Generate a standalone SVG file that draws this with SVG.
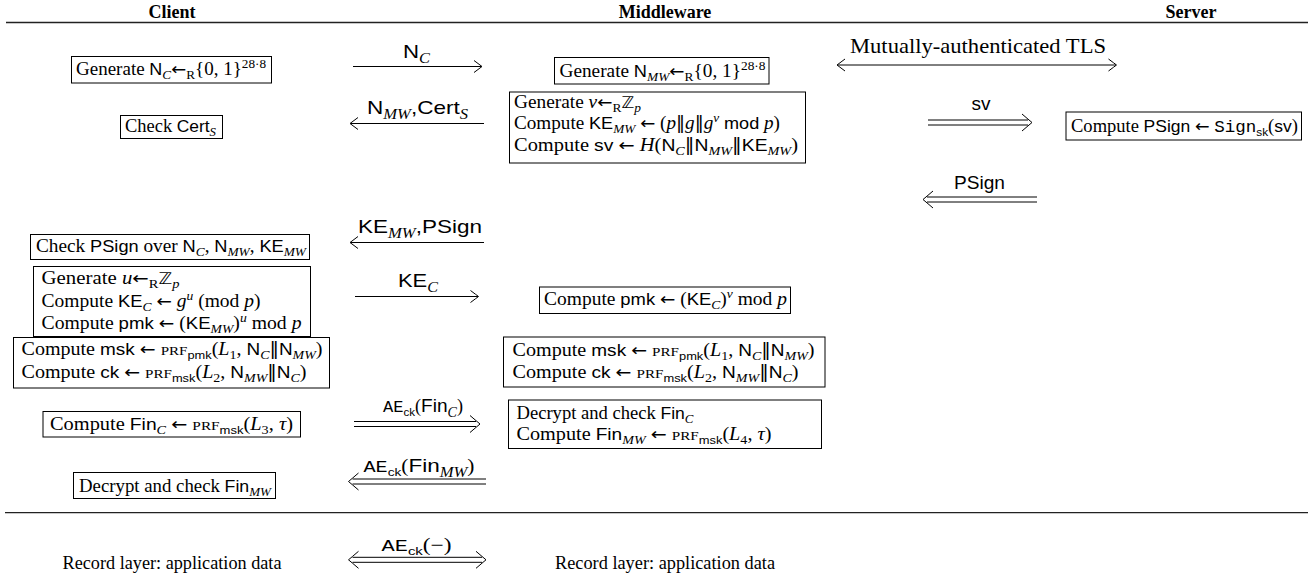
<svg xmlns="http://www.w3.org/2000/svg" xmlns:xlink="http://www.w3.org/1999/xlink" width="1313" height="588" viewBox="0 0 1313 588">
<style>
.bg{fill:#fff}
.box{fill:#fff;stroke:#000;stroke-width:1}
.rule{stroke:#222;stroke-width:1.3}
.ln{stroke:#000;stroke-width:1;fill:none}
.hd{stroke:#000;stroke-width:1;fill:none}
text{fill:#000}
.tx{font-family:"Liberation Serif",serif;font-size:18px}
.hdr{font-family:"Liberation Serif",serif;font-size:18px;font-weight:bold;text-anchor:middle}
.lb{font-family:"Liberation Serif",serif;font-size:18px;text-anchor:middle}
.tls{font-family:"Liberation Serif",serif;font-size:22px;text-anchor:middle}
.r{font-family:"Liberation Serif",serif;font-size:18px}
.s{font-family:"Liberation Sans",sans-serif;font-size:17px}
.s2{font-family:"Liberation Sans",sans-serif;font-size:19px}
.i{font-family:"Liberation Serif",serif;font-style:italic}
.m{font-family:"Liberation Mono",monospace;font-size:17px}
.sc{font-family:"Liberation Serif",serif;font-size:13.5px}
.bb{font-family:"DejaVu Sans",sans-serif;font-size:16px}
.ar{font-family:"DejaVu Sans",sans-serif;font-size:17px}
.dv{font-family:"DejaVu Sans",sans-serif;font-size:17px}
.sb{font-size:12.5px;baseline-shift:-4px}
.sb2{font-size:14px;baseline-shift:-4.5px}
.sbs{font-family:"Liberation Sans",sans-serif;font-size:11.5px;baseline-shift:-4px}
.sp{font-size:12.5px;baseline-shift:7px}
</style>
<defs>
<path id="hs" class="hd" d="M-8,-6 Q-2,-1.5 0,0 Q-2,1.5 -8,6"/>
<path id="hd2" class="hd" d="M-10,-8.5 Q-3,-2.5 0,0 Q-3,2.5 -10,8.5"/>
</defs>
<rect class="bg" x="0" y="0" width="1313" height="588"/>

<g id="headers">
<text class="hdr" x="172" y="17.5">Client</text>
<text class="hdr" x="665" y="17.5">Middleware</text>
<text class="hdr" x="1191" y="17.5">Server</text>
<line class="rule" x1="6" y1="22.5" x2="1308" y2="22.5"/>
<line class="rule" x1="5" y1="512.7" x2="1308" y2="512.7"/>
</g>

<g id="connectors">
<line class="ln" x1="353" y1="66.5" x2="481.5" y2="66.5"/>
<use xlink:href="#hs" transform="translate(482,66.5)"/>
<text class="lb" x="416.5" y="57.5" textLength="27" lengthAdjust="spacingAndGlyphs"><tspan class="s2">N</tspan><tspan class="i sb2">C</tspan></text>

<line class="ln" x1="350.5" y1="123.5" x2="484" y2="123.5"/>
<use xlink:href="#hs" transform="translate(350,123.5) scale(-1,1)"/>
<text class="lb" x="417.5" y="114" textLength="101" lengthAdjust="spacingAndGlyphs"><tspan class="s2">N</tspan><tspan class="i sb2">MW</tspan><tspan class="s2">,Cert</tspan><tspan class="i sb2">S</tspan></text>

<line class="ln" x1="837.5" y1="65" x2="1116" y2="65"/>
<use xlink:href="#hs" transform="translate(837,65) scale(-1,1)"/>
<use xlink:href="#hs" transform="translate(1116.5,65)"/>
<text class="tls" x="978" y="53" textLength="256" lengthAdjust="spacingAndGlyphs">Mutually-authenticated TLS</text>

<line class="ln" x1="928" y1="120" x2="1028" y2="120"/>
<line class="ln" x1="928" y1="125" x2="1028" y2="125"/>
<use xlink:href="#hd2" transform="translate(1032,122.5)"/>
<text class="lb" x="981" y="110"><tspan class="s2">sv</tspan></text>

<line class="ln" x1="927" y1="197" x2="1037" y2="197"/>
<line class="ln" x1="927" y1="202" x2="1037" y2="202"/>
<use xlink:href="#hd2" transform="translate(923,199.5) scale(-1,1)"/>
<text class="lb" x="979.5" y="188.5" textLength="51" lengthAdjust="spacingAndGlyphs"><tspan class="s2">PSign</tspan></text>

<line class="ln" x1="350.5" y1="242.5" x2="484" y2="242.5"/>
<use xlink:href="#hs" transform="translate(350,242.5) scale(-1,1)"/>
<text class="lb" x="420" y="233" textLength="124" lengthAdjust="spacingAndGlyphs"><tspan class="s2">KE</tspan><tspan class="i sb2">MW</tspan><tspan class="s2">,PSign</tspan></text>

<line class="ln" x1="355" y1="296.5" x2="478" y2="296.5"/>
<use xlink:href="#hs" transform="translate(478.5,296.5)"/>
<text class="lb" x="418" y="286.5" textLength="40" lengthAdjust="spacingAndGlyphs"><tspan class="s2">KE</tspan><tspan class="i sb2">C</tspan></text>

<line class="ln" x1="354" y1="421.5" x2="476" y2="421.5"/>
<line class="ln" x1="354" y1="426.5" x2="476" y2="426.5"/>
<use xlink:href="#hd2" transform="translate(480,424)"/>
<text class="lb" x="423" y="412" textLength="80" lengthAdjust="spacingAndGlyphs"><tspan class="m">AE</tspan><tspan class="sbs">ck</tspan><tspan class="r">(</tspan><tspan class="s2">Fin</tspan><tspan class="i sb2">C</tspan><tspan class="r">)</tspan></text>

<line class="ln" x1="352.5" y1="479" x2="486" y2="479"/>
<line class="ln" x1="352.5" y1="484" x2="486" y2="484"/>
<use xlink:href="#hd2" transform="translate(348.5,481.5) scale(-1,1)"/>
<text class="lb" x="419" y="471.5" textLength="111" lengthAdjust="spacingAndGlyphs"><tspan class="m">AE</tspan><tspan class="sbs">ck</tspan><tspan class="r">(</tspan><tspan class="s2">Fin</tspan><tspan class="i sb2">MW</tspan><tspan class="r">)</tspan></text>

<line class="ln" x1="352.5" y1="557.3" x2="482" y2="557.3"/>
<line class="ln" x1="352.5" y1="562.3" x2="482" y2="562.3"/>
<use xlink:href="#hd2" transform="translate(348.5,559.8) scale(-1,1)"/>
<use xlink:href="#hd2" transform="translate(486,559.8)"/>
<text class="lb" x="416.5" y="550.5" textLength="70" lengthAdjust="spacingAndGlyphs"><tspan class="m">AE</tspan><tspan class="sbs">ck</tspan><tspan class="r">(−)</tspan></text>
</g>

<g id="client-gen-nonce">
<rect class="box" x="71.5" y="56.5" width="200" height="26.5"/>
<text class="tx" x="76" y="75" textLength="190" lengthAdjust="spacingAndGlyphs"><tspan class="r">Generate </tspan><tspan class="s">N</tspan><tspan class="i sb">C</tspan><tspan class="ar">←</tspan><tspan class="r sb">R</tspan><tspan class="r">{0, 1}</tspan><tspan class="r sp">28·8</tspan></text>
</g>
<g id="client-check-cert">
<rect class="box" x="120.5" y="115.5" width="102" height="23"/>
<text class="tx" x="125" y="132" textLength="91" lengthAdjust="spacingAndGlyphs"><tspan class="r">Check </tspan><tspan class="s">Cert</tspan><tspan class="i sb">S</tspan></text>
</g>
<g id="client-check-psign">
<rect class="box" x="30.5" y="234.5" width="279" height="25"/>
<text class="tx" x="36" y="251.5" textLength="270" lengthAdjust="spacingAndGlyphs"><tspan class="r">Check </tspan><tspan class="s">PSign</tspan><tspan class="r"> over </tspan><tspan class="s">N</tspan><tspan class="i sb">C</tspan><tspan class="r">, </tspan><tspan class="s">N</tspan><tspan class="i sb">MW</tspan><tspan class="r">, </tspan><tspan class="s">KE</tspan><tspan class="i sb">MW</tspan></text>
</g>
<g id="client-keyshare">
<rect class="box" x="33.5" y="266.5" width="277" height="70"/>
<text class="tx" x="41.5" y="283.5" textLength="138" lengthAdjust="spacingAndGlyphs"><tspan class="r">Generate </tspan><tspan class="i">u</tspan><tspan class="ar">←</tspan><tspan class="r sb">R</tspan><tspan class="bb">ℤ</tspan><tspan class="i sb">p</tspan></text>
<text class="tx" x="41.5" y="306.5" textLength="219" lengthAdjust="spacingAndGlyphs"><tspan class="r">Compute </tspan><tspan class="s">KE</tspan><tspan class="i sb">C</tspan><tspan class="r"> </tspan><tspan class="ar">←</tspan><tspan class="r"> </tspan><tspan class="i">g</tspan><tspan class="i sp">u</tspan><tspan class="r"> (mod </tspan><tspan class="i">p</tspan><tspan class="r">)</tspan></text>
<text class="tx" x="41.5" y="329" textLength="260" lengthAdjust="spacingAndGlyphs"><tspan class="r">Compute </tspan><tspan class="s">pmk</tspan><tspan class="r"> </tspan><tspan class="ar">←</tspan><tspan class="r"> (</tspan><tspan class="s">KE</tspan><tspan class="i sb">MW</tspan><tspan class="r">)</tspan><tspan class="i sp">u</tspan><tspan class="r"> mod </tspan><tspan class="i">p</tspan></text>
</g>
<g id="client-keys">
<rect class="box" x="13.5" y="337.5" width="316" height="50.5"/>
<text class="tx" x="21.5" y="355" textLength="301" lengthAdjust="spacingAndGlyphs"><tspan class="r">Compute </tspan><tspan class="s">msk</tspan><tspan class="r"> </tspan><tspan class="ar">←</tspan><tspan class="r"> </tspan><tspan class="sc">PRF</tspan><tspan class="sbs">pmk</tspan><tspan class="r">(</tspan><tspan class="i">L</tspan><tspan class="r sb">1</tspan><tspan class="r">, </tspan><tspan class="s">N</tspan><tspan class="i sb">C</tspan><tspan class="dv">‖</tspan><tspan class="s">N</tspan><tspan class="i sb">MW</tspan><tspan class="r">)</tspan></text>
<text class="tx" x="21.5" y="378.3" textLength="285" lengthAdjust="spacingAndGlyphs"><tspan class="r">Compute </tspan><tspan class="s">ck</tspan><tspan class="r"> </tspan><tspan class="ar">←</tspan><tspan class="r"> </tspan><tspan class="sc">PRF</tspan><tspan class="sbs">msk</tspan><tspan class="r">(</tspan><tspan class="i">L</tspan><tspan class="r sb">2</tspan><tspan class="r">, </tspan><tspan class="s">N</tspan><tspan class="i sb">MW</tspan><tspan class="dv">‖</tspan><tspan class="s">N</tspan><tspan class="i sb">C</tspan><tspan class="r">)</tspan></text>
</g>
<g id="client-fin">
<rect class="box" x="43" y="411.5" width="257.5" height="25.5"/>
<text class="tx" x="50" y="430" textLength="243" lengthAdjust="spacingAndGlyphs"><tspan class="r">Compute </tspan><tspan class="s">Fin</tspan><tspan class="i sb">C</tspan><tspan class="r"> </tspan><tspan class="ar">←</tspan><tspan class="r"> </tspan><tspan class="sc">PRF</tspan><tspan class="sbs">msk</tspan><tspan class="r">(</tspan><tspan class="i">L</tspan><tspan class="r sb">3</tspan><tspan class="r">, </tspan><tspan class="i">τ</tspan><tspan class="r">)</tspan></text>
</g>
<g id="client-check-fin">
<rect class="box" x="73.5" y="472.5" width="202" height="26"/>
<text class="tx" x="79" y="491.5" textLength="192" lengthAdjust="spacingAndGlyphs"><tspan class="r">Decrypt and check </tspan><tspan class="s">Fin</tspan><tspan class="i sb">MW</tspan></text>
</g>
<g id="client-record">
<text class="tx" x="172" y="569" text-anchor="middle" textLength="219" lengthAdjust="spacingAndGlyphs">Record layer: application data</text>
</g>

<g id="mw-gen-nonce">
<rect class="box" x="554.5" y="57.5" width="214.5" height="26.5"/>
<text class="tx" x="559.5" y="76.5" textLength="206" lengthAdjust="spacingAndGlyphs"><tspan class="r">Generate </tspan><tspan class="s">N</tspan><tspan class="i sb">MW</tspan><tspan class="ar">←</tspan><tspan class="r sb">R</tspan><tspan class="r">{0, 1}</tspan><tspan class="r sp">28·8</tspan></text>
</g>
<g id="mw-keyshare">
<rect class="box" x="509.5" y="92" width="296" height="71"/>
<text class="tx" x="514" y="108.3" textLength="127" lengthAdjust="spacingAndGlyphs"><tspan class="r">Generate </tspan><tspan class="i">v</tspan><tspan class="ar">←</tspan><tspan class="r sb">R</tspan><tspan class="bb">ℤ</tspan><tspan class="i sb">p</tspan></text>
<text class="tx" x="514" y="129" textLength="266" lengthAdjust="spacingAndGlyphs"><tspan class="r">Compute </tspan><tspan class="s">KE</tspan><tspan class="i sb">MW</tspan><tspan class="r"> </tspan><tspan class="ar">←</tspan><tspan class="r"> (</tspan><tspan class="i">p</tspan><tspan class="dv">‖</tspan><tspan class="i">g</tspan><tspan class="dv">‖</tspan><tspan class="i">g</tspan><tspan class="i sp">v</tspan><tspan class="r"> </tspan><tspan class="s">mod</tspan><tspan class="r"> </tspan><tspan class="i">p</tspan><tspan class="r">)</tspan></text>
<text class="tx" x="514" y="150.5" textLength="284" lengthAdjust="spacingAndGlyphs"><tspan class="r">Compute </tspan><tspan class="s">sv</tspan><tspan class="r"> </tspan><tspan class="ar">←</tspan><tspan class="r"> </tspan><tspan class="i">H</tspan><tspan class="r">(</tspan><tspan class="s">N</tspan><tspan class="i sb">C</tspan><tspan class="dv">‖</tspan><tspan class="s">N</tspan><tspan class="i sb">MW</tspan><tspan class="dv">‖</tspan><tspan class="s">KE</tspan><tspan class="i sb">MW</tspan><tspan class="r">)</tspan></text>
</g>
<g id="mw-pmk">
<rect class="box" x="539.5" y="287" width="251" height="26.5"/>
<text class="tx" x="544" y="305" textLength="243" lengthAdjust="spacingAndGlyphs"><tspan class="r">Compute </tspan><tspan class="s">pmk</tspan><tspan class="r"> </tspan><tspan class="ar">←</tspan><tspan class="r"> (</tspan><tspan class="s">KE</tspan><tspan class="i sb">C</tspan><tspan class="r">)</tspan><tspan class="i sp">v</tspan><tspan class="r"> mod </tspan><tspan class="i">p</tspan></text>
</g>
<g id="mw-keys">
<rect class="box" x="503.5" y="337" width="321.5" height="50"/>
<text class="tx" x="512.5" y="356" textLength="302" lengthAdjust="spacingAndGlyphs"><tspan class="r">Compute </tspan><tspan class="s">msk</tspan><tspan class="r"> </tspan><tspan class="ar">←</tspan><tspan class="r"> </tspan><tspan class="sc">PRF</tspan><tspan class="sbs">pmk</tspan><tspan class="r">(</tspan><tspan class="i">L</tspan><tspan class="r sb">1</tspan><tspan class="r">, </tspan><tspan class="s">N</tspan><tspan class="i sb">C</tspan><tspan class="dv">‖</tspan><tspan class="s">N</tspan><tspan class="i sb">MW</tspan><tspan class="r">)</tspan></text>
<text class="tx" x="512.5" y="377.5" textLength="286" lengthAdjust="spacingAndGlyphs"><tspan class="r">Compute </tspan><tspan class="s">ck</tspan><tspan class="r"> </tspan><tspan class="ar">←</tspan><tspan class="r"> </tspan><tspan class="sc">PRF</tspan><tspan class="sbs">msk</tspan><tspan class="r">(</tspan><tspan class="i">L</tspan><tspan class="r sb">2</tspan><tspan class="r">, </tspan><tspan class="s">N</tspan><tspan class="i sb">MW</tspan><tspan class="dv">‖</tspan><tspan class="s">N</tspan><tspan class="i sb">C</tspan><tspan class="r">)</tspan></text>
</g>
<g id="mw-fin">
<rect class="box" x="508.5" y="400" width="313" height="48.5"/>
<text class="tx" x="516.5" y="418.5" textLength="177" lengthAdjust="spacingAndGlyphs"><tspan class="r">Decrypt and check </tspan><tspan class="s">Fin</tspan><tspan class="i sb">C</tspan></text>
<text class="tx" x="516.5" y="440" textLength="255" lengthAdjust="spacingAndGlyphs"><tspan class="r">Compute </tspan><tspan class="s">Fin</tspan><tspan class="i sb">MW</tspan><tspan class="r"> </tspan><tspan class="ar">←</tspan><tspan class="r"> </tspan><tspan class="sc">PRF</tspan><tspan class="sbs">msk</tspan><tspan class="r">(</tspan><tspan class="i">L</tspan><tspan class="r sb">4</tspan><tspan class="r">, </tspan><tspan class="i">τ</tspan><tspan class="r">)</tspan></text>
</g>
<g id="mw-record">
<text class="tx" x="665" y="569" text-anchor="middle" textLength="220" lengthAdjust="spacingAndGlyphs">Record layer: application data</text>
</g>

<g id="server-sign">
<rect class="box" x="1066" y="112" width="235.5" height="28"/>
<text class="tx" x="1071" y="131.5" textLength="227" lengthAdjust="spacingAndGlyphs"><tspan class="r">Compute </tspan><tspan class="s">PSign</tspan><tspan class="r"> </tspan><tspan class="ar">←</tspan><tspan class="r"> </tspan><tspan class="m">Sign</tspan><tspan class="sbs">sk</tspan><tspan class="r">(</tspan><tspan class="s">sv</tspan><tspan class="r">)</tspan></text>
</g>
</svg>
